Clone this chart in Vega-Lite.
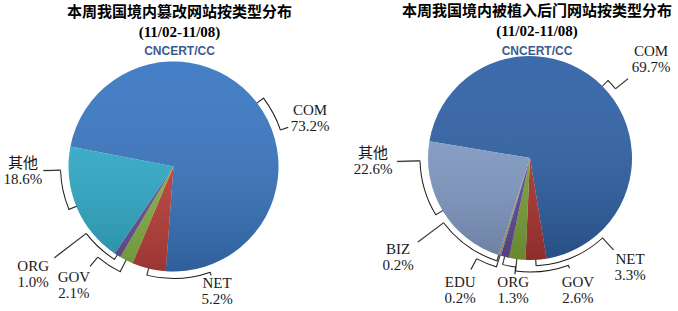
{
  "$schema": "https://vega.github.io/schema/vega-lite/v6.json",
  "padding": {"top": 4, "left": 0, "right": 0, "bottom": 0},
  "bounds": "flush",
  "spacing": 35,
  "background": "white",
  "resolve": {"scale": {"color": "independent", "theta": "independent"}},
  "config": {
    "view": {"stroke": null},
    "title": {
      "font": "Liberation Serif, Noto Sans CJK SC",
      "fontSize": 15,
      "fontWeight": "bold",
      "color": "#000000",
      "lineHeight": 20,
      "anchor": "middle",
      "frame": "group",
      "subtitleFont": "Liberation Sans",
      "subtitleFontSize": 12,
      "subtitleFontWeight": "bold",
      "subtitleColor": "#3B5B93",
      "subtitlePadding": 6.5,
      "offset": 4
    }
  },
  "datasets": {
    "tampered": [
      {"type": "COM", "value": 73.2},
      {"type": "NET", "value": 5.2},
      {"type": "GOV", "value": 2.1},
      {"type": "ORG", "value": 1.0},
      {"type": "其他", "value": 18.6}
    ],
    "backdoor": [
      {"type": "COM", "value": 69.7},
      {"type": "NET", "value": 3.3},
      {"type": "GOV", "value": 2.6},
      {"type": "ORG", "value": 1.3},
      {"type": "EDU", "value": 0.2},
      {"type": "BIZ", "value": 0.2},
      {"type": "其他", "value": 22.6}
    ]
  },
  "hconcat": [
    {
      "width": 347,
      "height": 211,
      "data": {"name": "tampered"},
      "title": {"text": ["本周我国境内篡改网站按类型分布", "(11/02-11/08)"], "subtitle": "CNCERT/CC", "dx": 6},
      "transform": [
        {"window": [{"op": "row_number", "as": "idx"}]},
        {"window": [{"op": "sum", "field": "value", "as": "cum"}], "sort": [{"field": "idx"}], "frame": [null, 0]},
        {"calculate": "datum.cum - datum.value / 2", "as": "mid"},
        {"calculate": "datum.mid + 0.09", "as": "mid2"},
        {"calculate": "datum.type == 'COM' ? 18.4 : datum.type == 'NET' ? -32.8 : datum.type == 'GOV' ? 13.0 : datum.type == 'ORG' ? 20.1 : 20.5", "as": "off"},
        {"calculate": "datum.mid + datum.off * 100.1 / 360", "as": "la"},
        {"calculate": "datum.la + 0.09", "as": "la2"},
        {"calculate": "datum.type == 'COM' ? 144.4 : datum.type == 'NET' ? 132.4 : datum.type == 'GOV' ? 155.9 : datum.type == 'ORG' ? 177.2 : 150.6", "as": "lr"},
        {"calculate": "datum.type == 'COM' ? 121 : datum.type == 'NET' ? 115 : datum.type == 'GOV' ? 130 : datum.type == 'ORG' ? 150 : 130", "as": "le"},
        {"calculate": "datum.type == 'COM' ? 113 : datum.type == 'NET' ? 112 : datum.type == 'GOV' ? 118 : datum.type == 'ORG' ? 110 : 113", "as": "rk"},
        {"calculate": "datum.rk + 0.5", "as": "rkO"},
        {"calculate": "datum.rk - 0.5", "as": "rkI"},
        {"calculate": "format(datum.value, '.1f') + '%'", "as": "pct"}
      ],
      "layer": [
        {
          "mark": {"type": "arc", "radius": 105},
          "encoding": {
            "theta": {"field": "value", "type": "quantitative", "stack": true, "scale": {"domain": [0, 100.1], "range": [4.904, 11.187]}},
            "order": {"field": "idx", "type": "quantitative"},
            "color": {"field": "type", "type": "nominal", "legend": null,
              "scale": {"domain": ["COM", "NET", "GOV", "ORG", "其他"], "range": ["#3A77C2", "#C2433E", "#8BB847", "#6E54A0", "#33B0CE"]}}
          }
        },
        {
          "transform": [{"filter": "datum.type == 'COM'"}],
          "mark": {"type": "arc", "radius": 105,
            "fill": {"gradient": "linear", "x1": 0, "y1": 0, "x2": 0, "y2": 1,
              "stops": [{"offset": 0, "color": "rgba(255,255,255,0.06)"}, {"offset": 1, "color": "rgba(0,0,0,0.2)"}]}},
          "encoding": {}
        },
        {
          "mark": {"type": "arc", "radius2": 105, "fill": "#1a1a1a", "stroke": "#1a1a1a", "strokeWidth": 0.4},
          "encoding": {
            "theta": {"field": "mid", "type": "quantitative", "stack": null, "scale": {"domain": [0, 100.1], "range": [4.904, 11.187]}},
            "theta2": {"field": "mid2"},
            "radius": {"field": "rk", "type": "quantitative", "scale": null}
          }
        },
        {
          "mark": {"type": "arc", "fill": "#1a1a1a"},
          "encoding": {
            "theta": {"field": "mid", "type": "quantitative", "stack": null, "scale": {"domain": [0, 100.1], "range": [4.904, 11.187]}},
            "theta2": {"field": "la"},
            "radius": {"field": "rkO", "type": "quantitative", "scale": null},
            "radius2": {"field": "rkI"}
          }
        },
        {
          "mark": {"type": "arc", "fill": "#1a1a1a", "stroke": "#1a1a1a", "strokeWidth": 0.4},
          "encoding": {
            "theta": {"field": "la", "type": "quantitative", "stack": null, "scale": {"domain": [0, 100.1], "range": [4.904, 11.187]}},
            "theta2": {"field": "la2"},
            "radius": {"field": "le", "type": "quantitative", "scale": null},
            "radius2": {"field": "rk"}
          }
        },
        {
          "mark": {"type": "text", "font": "Liberation Serif, Noto Sans CJK SC", "fontSize": 15, "lineHeight": 16, "align": "center", "baseline": "line-bottom", "color": "#1a1a1a"},
          "encoding": {
            "theta": {"field": "la", "type": "quantitative", "stack": null, "scale": {"domain": [0, 100.1], "range": [4.904, 11.187]}},
            "radius": {"field": "lr", "type": "quantitative", "scale": null},
            "text": {"field": "type", "type": "nominal"}
          }
        },
        {
          "mark": {"type": "text", "font": "Liberation Serif, Noto Sans CJK SC", "fontSize": 15, "lineHeight": 16, "align": "center", "baseline": "line-top", "color": "#1a1a1a"},
          "encoding": {
            "theta": {"field": "la", "type": "quantitative", "stack": null, "scale": {"domain": [0, 100.1], "range": [4.904, 11.187]}},
            "radius": {"field": "lr", "type": "quantitative", "scale": null},
            "text": {"field": "pct", "type": "nominal"}
          }
        }
      ]
    },
    {
      "width": 296,
      "height": 194,
      "data": {"name": "backdoor"},
      "title": {"text": ["本周我国境内被植入后门网站按类型分布", "(11/02-11/08)"], "subtitle": "CNCERT/CC", "dx": 7, "offset": -13.4},
      "transform": [
        {"window": [{"op": "row_number", "as": "idx"}]},
        {"window": [{"op": "sum", "field": "value", "as": "cum"}], "sort": [{"field": "idx"}], "frame": [null, 0]},
        {"calculate": "datum.cum - datum.value / 2", "as": "mid"},
        {"calculate": "datum.mid + 0.09", "as": "mid2"},
        {"calculate": "datum.type == 'COM' ? 5.8 : datum.type == 'NET' ? -39.0 : datum.type == 'GOV' ? -27.1 : datum.type == 'ORG' ? -7.0 : datum.type == 'EDU' ? 10.8 : datum.type == 'BIZ' ? 35.3 : 29.6", "as": "off"},
        {"calculate": "datum.mid + datum.off * 99.9 / 360", "as": "la"},
        {"calculate": "datum.la + 0.09", "as": "la2"},
        {"calculate": "datum.type == 'COM' ? 156 : datum.type == 'NET' ? 148.3 : datum.type == 'GOV' ? 140.9 : datum.type == 'ORG' ? 133.6 : datum.type == 'EDU' ? 149.9 : datum.type == 'BIZ' ? 165.3 : 157", "as": "lr"},
        {"calculate": "datum.type == 'COM' ? 126 : datum.type == 'NET' ? 124 : datum.type == 'GOV' ? 117 : datum.type == 'ORG' ? 117 : datum.type == 'EDU' ? 126 : datum.type == 'BIZ' ? 140 : 133", "as": "le"},
        {"calculate": "datum.type == 'COM' ? 110 : datum.type == 'NET' ? 108 : datum.type == 'GOV' ? 114 : datum.type == 'ORG' ? 110 : datum.type == 'EDU' ? 114 : datum.type == 'BIZ' ? 108 : 110", "as": "rk"},
        {"calculate": "datum.rk + 0.5", "as": "rkO"},
        {"calculate": "datum.rk - 0.5", "as": "rkI"},
        {"calculate": "format(datum.value, '.1f') + '%'", "as": "pct"}
      ],
      "layer": [
        {
          "mark": {"type": "arc", "radius": 102},
          "encoding": {
            "theta": {"field": "value", "type": "quantitative", "stack": true, "scale": {"domain": [0, 99.9], "range": [4.878, 11.161]}},
            "order": {"field": "idx", "type": "quantitative"},
            "color": {"field": "type", "type": "nominal", "legend": null,
              "scale": {"domain": ["COM", "NET", "GOV", "ORG", "EDU", "BIZ", "其他"], "range": ["#3062A6", "#B13834", "#80A83D", "#684E9C", "#4BACC6", "#F08A3C", "#86A0CB"]}}
          }
        },
        {
          "transform": [{"filter": "datum.type == 'COM'"}],
          "mark": {"type": "arc", "radius": 102,
            "fill": {"gradient": "linear", "x1": 0, "y1": 0, "x2": 0, "y2": 1,
              "stops": [{"offset": 0, "color": "rgba(255,255,255,0.06)"}, {"offset": 1, "color": "rgba(0,0,0,0.2)"}]}},
          "encoding": {}
        },
        {
          "mark": {"type": "arc", "radius2": 102, "fill": "#1a1a1a", "stroke": "#1a1a1a", "strokeWidth": 0.4},
          "encoding": {
            "theta": {"field": "mid", "type": "quantitative", "stack": null, "scale": {"domain": [0, 99.9], "range": [4.878, 11.161]}},
            "theta2": {"field": "mid2"},
            "radius": {"field": "rk", "type": "quantitative", "scale": null}
          }
        },
        {
          "mark": {"type": "arc", "fill": "#1a1a1a"},
          "encoding": {
            "theta": {"field": "mid", "type": "quantitative", "stack": null, "scale": {"domain": [0, 99.9], "range": [4.878, 11.161]}},
            "theta2": {"field": "la"},
            "radius": {"field": "rkO", "type": "quantitative", "scale": null},
            "radius2": {"field": "rkI"}
          }
        },
        {
          "mark": {"type": "arc", "fill": "#1a1a1a", "stroke": "#1a1a1a", "strokeWidth": 0.4},
          "encoding": {
            "theta": {"field": "la", "type": "quantitative", "stack": null, "scale": {"domain": [0, 99.9], "range": [4.878, 11.161]}},
            "theta2": {"field": "la2"},
            "radius": {"field": "le", "type": "quantitative", "scale": null},
            "radius2": {"field": "rk"}
          }
        },
        {
          "mark": {"type": "text", "font": "Liberation Serif, Noto Sans CJK SC", "fontSize": 15, "lineHeight": 16, "align": "center", "baseline": "line-bottom", "color": "#1a1a1a"},
          "encoding": {
            "theta": {"field": "la", "type": "quantitative", "stack": null, "scale": {"domain": [0, 99.9], "range": [4.878, 11.161]}},
            "radius": {"field": "lr", "type": "quantitative", "scale": null},
            "text": {"field": "type", "type": "nominal"}
          }
        },
        {
          "mark": {"type": "text", "font": "Liberation Serif, Noto Sans CJK SC", "fontSize": 15, "lineHeight": 16, "align": "center", "baseline": "line-top", "color": "#1a1a1a"},
          "encoding": {
            "theta": {"field": "la", "type": "quantitative", "stack": null, "scale": {"domain": [0, 99.9], "range": [4.878, 11.161]}},
            "radius": {"field": "lr", "type": "quantitative", "scale": null},
            "text": {"field": "pct", "type": "nominal"}
          }
        }
      ]
    }
  ]
}
